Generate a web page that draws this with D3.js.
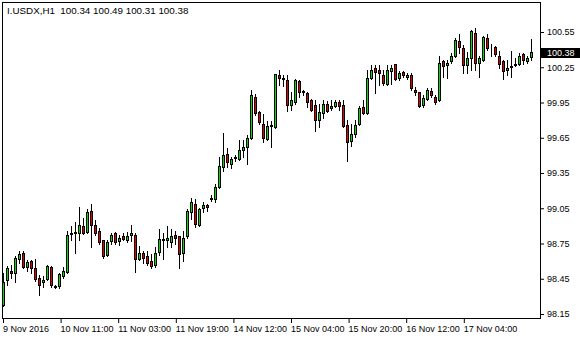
<!DOCTYPE html>
<html>
<head>
<meta charset="utf-8">
<script src="https://cdn.jsdelivr.net/npm/d3@7"></script>
<style>
  html, body { margin: 0; padding: 0; background: #fff; }
  svg { display: block; }
  text { font-family: "Liberation Sans", Arial, sans-serif; }
</style>
</head>
<body>
<div id="chart"></div>
<script>
// I.USDX H1 candles, 9 Nov 2016 19:00 .. 17 Nov 2016
const symbolTitle = "I.USDX,H1";
const lastBar = "100.34 100.49 100.31 100.38";
const lastPrice = 100.38;

const open = [
  98.23, 98.44, 98.52, 98.50, 98.62, 98.67, 98.55, 98.60, 98.54, 98.46,
  98.42, 98.45, 98.55, 98.39, 98.39, 98.47, 98.51, 98.84, 98.84, 98.84,
  98.90, 98.85, 99.03, 98.91, 98.86, 98.78, 98.65, 98.77, 98.84, 98.77,
  98.81, 98.78, 98.82, 98.82, 98.62, 98.67, 98.64, 98.60, 98.57, 98.68,
  98.78, 98.78, 98.76, 98.82, 98.81, 98.67, 98.81, 99.02, 99.09, 98.91,
  99.05, 99.08, 99.14, 99.13, 99.23, 99.40, 99.51, 99.43, 99.48, 99.47,
  99.55, 99.57, 99.65, 100.00, 99.87, 99.77, 99.64, 99.75, 99.74, 100.18,
  100.16, 100.14, 99.93, 99.95, 100.13, 100.05, 100.03, 99.97, 99.93, 99.80,
  99.86, 99.94, 99.90, 99.92, 99.95, 99.93, 99.76, 99.62, 99.68, 99.77,
  99.91, 99.86, 100.16, 100.24, 100.23, 100.18, 100.11, 100.22, 100.28, 100.16,
  100.21, 100.17, 100.18, 100.06, 100.04, 99.93, 99.98, 100.05, 100.00, 99.97,
  100.30, 100.27, 100.30, 100.35, 100.47, 100.41, 100.27, 100.33, 100.54, 100.29,
  100.31, 100.50, 100.41, 100.42, 100.35, 100.30, 100.23, 100.25, 100.27, 100.28,
  100.36, 100.30, 100.34
];
const high = [
  98.50, 98.56, 98.57, 98.64, 98.69, 98.69, 98.61, 98.61, 98.62, 98.48,
  98.47, 98.57, 98.56, 98.40, 98.50, 98.55, 98.86, 98.90, 98.93, 99.06,
  98.97, 99.04, 99.09, 98.95, 98.88, 98.78, 98.78, 98.84, 98.85, 98.82,
  98.84, 98.85, 98.91, 98.84, 98.73, 98.69, 98.69, 98.66, 98.72, 98.87,
  98.84, 98.90, 98.87, 98.86, 98.81, 98.86, 99.04, 99.14, 99.13, 99.05,
  99.10, 99.09, 99.16, 99.26, 99.49, 99.69, 99.56, 99.49, 99.50, 99.63,
  99.63, 99.67, 100.06, 100.02, 99.88, 99.85, 99.79, 99.79, 100.19, 100.23,
  100.18, 100.18, 100.04, 100.15, 100.14, 100.06, 100.04, 99.98, 99.97, 99.94,
  99.97, 99.96, 99.97, 99.97, 99.97, 99.97, 99.80, 99.77, 99.80, 99.92,
  99.97, 100.23, 100.27, 100.27, 100.27, 100.23, 100.27, 100.27, 100.28, 100.22,
  100.22, 100.20, 100.20, 100.08, 100.04, 100.01, 100.07, 100.07, 100.01, 100.35,
  100.31, 100.31, 100.37, 100.50, 100.53, 100.44, 100.38, 100.57, 100.58, 100.35,
  100.52, 100.53, 100.45, 100.43, 100.39, 100.31, 100.31, 100.39, 100.33, 100.37,
  100.37, 100.35, 100.49
];
const low = [
  98.22, 98.40, 98.46, 98.42, 98.58, 98.54, 98.52, 98.50, 98.43, 98.31,
  98.38, 98.44, 98.38, 98.37, 98.37, 98.46, 98.50, 98.78, 98.67, 98.78,
  98.83, 98.84, 98.72, 98.82, 98.75, 98.63, 98.64, 98.75, 98.75, 98.74,
  98.78, 98.76, 98.77, 98.51, 98.61, 98.58, 98.57, 98.54, 98.55, 98.65,
  98.62, 98.72, 98.72, 98.75, 98.54, 98.60, 98.80, 98.96, 98.89, 98.90,
  99.02, 99.03, 99.11, 99.10, 99.22, 99.37, 99.40, 99.39, 99.45, 99.46,
  99.49, 99.43, 99.64, 99.84, 99.77, 99.61, 99.63, 99.57, 99.73, 100.10,
  100.09, 99.88, 99.89, 99.94, 100.00, 100.01, 99.91, 99.88, 99.71, 99.74,
  99.82, 99.87, 99.89, 99.91, 99.89, 99.74, 99.45, 99.58, 99.66, 99.76,
  99.85, 99.85, 100.15, 100.03, 100.10, 100.10, 100.10, 100.11, 100.14, 100.14,
  100.17, 100.15, 100.06, 100.01, 99.91, 99.91, 99.97, 100.00, 99.94, 99.96,
  100.17, 100.16, 100.29, 100.34, 100.37, 100.20, 100.20, 100.23, 100.23, 100.17,
  100.30, 100.40, 100.35, 100.35, 100.24, 100.15, 100.18, 100.17, 100.26, 100.27,
  100.28, 100.29, 100.31
];
const close = [
  98.42, 98.54, 98.50, 98.63, 98.66, 98.55, 98.59, 98.54, 98.45, 98.40,
  98.44, 98.56, 98.40, 98.38, 98.49, 98.52, 98.82, 98.83, 98.85, 98.91,
  98.84, 99.02, 98.91, 98.84, 98.76, 98.64, 98.76, 98.82, 98.76, 98.80,
  98.79, 98.81, 98.84, 98.62, 98.67, 98.63, 98.58, 98.56, 98.67, 98.79,
  98.79, 98.80, 98.81, 98.80, 98.66, 98.80, 99.03, 99.10, 98.92, 99.04,
  99.08, 99.06, 99.13, 99.23, 99.41, 99.50, 99.44, 99.47, 99.49, 99.55,
  99.57, 99.65, 100.01, 99.86, 99.78, 99.65, 99.75, 99.76, 100.19, 100.16,
  100.15, 99.93, 99.97, 100.14, 100.04, 100.04, 99.95, 99.89, 99.80, 99.87,
  99.94, 99.88, 99.92, 99.95, 99.92, 99.75, 99.61, 99.68, 99.76, 99.90,
  99.86, 100.16, 100.23, 100.21, 100.20, 100.12, 100.23, 100.24, 100.15, 100.20,
  100.18, 100.18, 100.07, 100.04, 99.92, 99.99, 100.06, 100.01, 99.95, 100.29,
  100.26, 100.29, 100.35, 100.48, 100.42, 100.27, 100.33, 100.56, 100.29, 100.33,
  100.51, 100.41, 100.41, 100.36, 100.28, 100.22, 100.24, 100.26, 100.28, 100.35,
  100.31, 100.33, 100.38
];

// time axis labels and the bar position they sit on
const xTickLabels = ["9 Nov 2016", "10 Nov 11:00", "11 Nov 03:00", "11 Nov 19:00",
  "14 Nov 12:00", "15 Nov 04:00", "15 Nov 20:00", "16 Nov 12:00", "17 Nov 04:00"];
const xTickBars = [0, 14.4, 28.8, 43.2, 57.6, 72, 86.4, 100.8, 115.2];
const yTicks = [100.55, 100.25, 99.95, 99.65, 99.35, 99.05, 98.75, 98.45, 98.15];

const width = 580, height = 340;
const frame = {left: 2, top: 2, right: 540, bottom: 318};
const bullColor = '#00e000', bearColor = '#e00000';

const bars = open.map((o, i) => ({i, o, h: high[i], l: low[i], c: close[i]}));

const svg = d3.select('#chart').append('svg')
    .attr('width', width)
    .attr('height', height);

const x = d3.scaleLinear()
    .domain([0, bars.length - 1])
    .range([3, 3 + 4 * (bars.length - 1)]);

const y = d3.scaleLinear()
    .domain([98.15, 100.55])
    .range([314, 32]);

// 外框
svg.append('rect')
    .attr('x', frame.left + 0.5)
    .attr('y', frame.top + 0.5)
    .attr('width', frame.right - frame.left)
    .attr('height', frame.bottom - frame.top)
    .attr('fill', 'none')
    .attr('stroke', '#000')
    .attr('shape-rendering', 'crispEdges');

// wicks
const px = v => Math.round(x(v)) + 0.5;
svg.append('g').selectAll('line')
    .data(bars)
    .join('line')
    .attr('x1', d => px(d.i))
    .attr('x2', d => px(d.i))
    .attr('y1', d => Math.round(y(d.h)))
    .attr('y2', d => Math.round(y(d.l)) + 1)
    .attr('stroke', '#000')
    .attr('shape-rendering', 'crispEdges');

// bodies
svg.append('g').selectAll('rect')
    .data(bars)
    .join('rect')
    .attr('x', d => px(d.i) - 1)
    .attr('y', d => Math.round(y(Math.max(d.o, d.c))) + 0.5)
    .attr('width', 2)
    .attr('height', d => Math.round(y(Math.min(d.o, d.c))) - Math.round(y(Math.max(d.o, d.c))))
    .attr('fill', d => d.c >= d.o ? bullColor : bearColor)
    .attr('stroke', '#000')
    .attr('shape-rendering', 'crispEdges');

// price axis
const yAxis = svg.append('g')
    .attr('transform', `translate(${frame.right + 1},0)`)
    .call(d3.axisRight(y).tickValues(yTicks).tickSize(3).tickPadding(3).tickFormat(d3.format('.2f')));
yAxis.select('.domain').remove();
yAxis.selectAll('text')
    .attr('fill', '#000')
    .style('font-size', '9px');

// time axis
const xAxis = svg.append('g')
    .attr('transform', `translate(0,${frame.bottom + 1})`)
    .call(d3.axisBottom(x).tickValues(xTickBars).tickSize(4).tickPadding(3)
        .tickFormat((d, i) => xTickLabels[i]));
xAxis.select('.domain').remove();
xAxis.selectAll('text')
    .attr('fill', '#000')
    .attr('text-anchor', 'start')
    .attr('dx', '-0.5')
    .style('font-size', '9px');

// current price marker
svg.append('rect')
    .attr('x', frame.right + 1)
    .attr('y', Math.round(y(lastPrice)) - 4)
    .attr('width', width - frame.right - 1)
    .attr('height', 10)
    .attr('fill', '#000');
svg.append('text')
    .attr('x', frame.right + 7)
    .attr('y', y(lastPrice) + 0.5)
    .attr('dy', '0.35em')
    .attr('fill', '#fff')
    .style('font-size', '9px')
    .text(d3.format('.2f')(lastPrice));

// 标题
svg.append('text')
    .attr('x', 7)
    .attr('y', 14)
    .attr('fill', '#000')
    .style('font-size', '9.8px')
    .text(`${symbolTitle}  ${lastBar}`)
    .attr('xml:space', 'preserve');
</script>
</body>
</html>
